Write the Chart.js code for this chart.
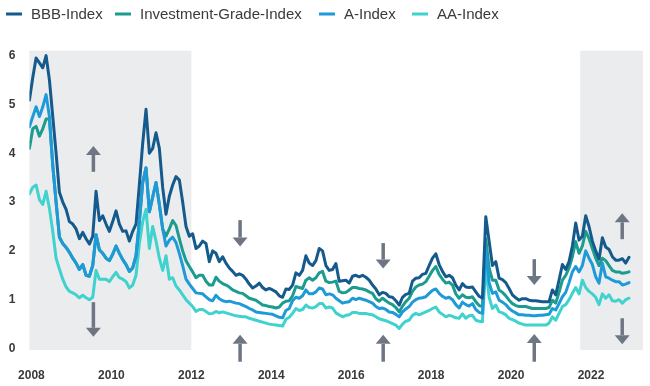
<!DOCTYPE html>
<html><head><meta charset="utf-8">
<script src="https://cdn.jsdelivr.net/npm/chart.js@4.4.0/dist/chart.umd.min.js"></script>
<style>html,body{margin:0;padding:0;background:#fff;}#wrap{width:650px;height:386px;position:relative;}</style>
</head><body><div id="wrap"><canvas id="c"></canvas></div>
<script>
// ---- data ----
const startYear = 2007.95; // first monthly observation (axis units)
const seriesNames = ['BBB-Index', 'Investment-Grade-Index', 'A-Index', 'AA-Index'];
const bbb = [5.09,5.55,5.95,5.85,5.75,6.0,5.5,4.75,4.0,3.2,
3.0,2.85,2.6,2.55,2.45,2.25,2.38,2.25,2.14,2.3,
3.22,2.62,2.72,2.55,2.4,2.6,2.82,2.55,2.4,2.41,
2.2,2.4,2.55,3.35,4.2,4.9,4.0,4.1,4.42,4.1,
3.3,2.75,3.12,3.35,3.52,3.45,3.0,2.5,2.3,2.35,
2.05,2.1,2.2,2.15,1.78,2.0,1.95,1.78,1.88,1.75,
1.65,1.58,1.5,1.53,1.5,1.42,1.32,1.24,1.28,1.34,
1.25,1.2,1.23,1.2,1.16,1.08,1.05,1.22,1.21,1.3,
1.55,1.5,1.6,1.9,1.75,1.7,1.8,2.05,2.0,1.7,
1.6,1.62,1.74,1.38,1.39,1.4,1.34,1.48,1.5,1.47,
1.5,1.46,1.4,1.3,1.22,1.1,1.15,1.13,1.06,1.05,
0.98,0.89,1.05,1.11,1.13,1.38,1.44,1.45,1.52,1.54,
1.7,1.85,1.94,1.72,1.58,1.47,1.5,1.45,1.3,1.2,
1.33,1.26,1.25,1.26,1.16,1.07,1.03,2.7,2.2,1.7,
1.78,1.44,1.41,1.35,1.23,1.1,1.04,0.99,1.02,1.02,
0.99,0.98,0.98,0.97,0.96,0.96,0.96,1.2,1.1,1.4,
1.72,1.62,1.78,2.1,2.57,2.22,2.3,2.72,2.5,2.2,
2.0,1.83,2.27,2.08,2.03,1.88,1.81,1.81,1.84,1.75,
1.87];
const ig = [4.1,4.5,4.55,4.35,4.5,4.7,4.7,3.75,3.0,2.28,
2.15,2.07,1.97,1.85,1.75,1.62,1.72,1.5,1.48,1.7,
2.33,2.02,1.95,1.85,1.8,1.93,2.1,1.95,1.82,1.72,
1.58,1.65,1.9,2.6,3.4,3.7,2.8,3.1,3.4,2.95,
2.45,2.3,2.45,2.62,2.52,2.25,2.0,1.8,1.68,1.57,
1.45,1.5,1.5,1.38,1.3,1.3,1.46,1.38,1.33,1.3,
1.26,1.2,1.17,1.14,1.13,1.08,1.03,1.01,0.99,0.94,
0.89,0.88,0.86,0.85,0.83,0.85,0.93,0.97,0.98,1.08,
1.27,1.25,1.23,1.4,1.45,1.4,1.45,1.55,1.58,1.38,
1.35,1.36,1.38,1.17,1.14,1.15,1.2,1.25,1.25,1.23,
1.22,1.2,1.16,1.13,1.02,0.97,1.03,0.98,0.93,0.9,
0.84,0.75,0.87,0.96,1.03,1.17,1.26,1.3,1.32,1.37,
1.48,1.6,1.68,1.52,1.42,1.34,1.36,1.3,1.12,1.03,
1.1,1.05,1.04,1.06,0.96,0.88,0.86,2.25,1.65,1.4,
1.4,1.2,1.15,1.08,0.99,0.92,0.88,0.86,0.86,0.86,
0.84,0.82,0.82,0.82,0.82,0.82,0.84,0.99,0.93,1.15,
1.4,1.5,1.65,1.88,2.19,1.95,2.1,2.4,2.25,2.05,
1.85,1.7,1.85,1.8,1.7,1.6,1.57,1.57,1.54,1.55,
1.57];
const aIdx = [4.54,4.75,4.95,4.75,4.95,5.2,4.75,3.75,3.0,2.28,
2.15,2.07,1.97,1.85,1.75,1.62,1.72,1.5,1.48,1.7,
2.33,2.02,1.95,1.85,1.8,1.93,2.1,1.95,1.82,1.72,
1.58,1.65,1.9,2.6,3.4,3.7,2.8,3.1,3.4,2.95,
2.45,2.1,2.22,2.28,2.17,1.95,1.7,1.42,1.32,1.23,
1.14,1.13,1.12,1.06,1.0,0.98,1.09,1.02,0.98,0.96,
0.97,0.95,0.93,0.92,0.89,0.86,0.82,0.79,0.75,0.74,
0.73,0.72,0.71,0.7,0.67,0.64,0.63,0.78,0.82,0.98,
1.05,1.03,1.08,1.2,1.12,1.12,1.16,1.24,1.22,1.1,
1.12,1.1,1.03,0.98,0.93,0.95,0.96,1.03,1.0,1.03,
1.01,0.99,0.96,0.93,0.86,0.82,0.83,0.8,0.75,0.74,
0.7,0.65,0.75,0.81,0.86,0.95,1.0,1.03,1.04,1.06,
1.13,1.19,1.22,1.13,1.07,1.03,1.05,1.0,0.9,0.83,
0.95,0.9,0.87,0.92,0.8,0.74,0.72,2.05,1.35,1.13,
1.16,0.99,0.95,0.9,0.82,0.77,0.73,0.69,0.69,0.68,
0.68,0.67,0.67,0.68,0.68,0.69,0.7,0.82,0.79,0.92,
1.06,1.15,1.35,1.57,1.68,1.57,1.7,2.0,1.85,1.72,
1.47,1.34,1.75,1.47,1.44,1.4,1.37,1.37,1.3,1.32,
1.35];
const aa = [3.17,3.3,3.35,3.05,2.95,3.22,2.87,2.4,1.85,1.63,
1.42,1.26,1.17,1.14,1.1,1.04,1.09,1.04,1.0,1.05,
1.6,1.42,1.42,1.42,1.37,1.47,1.56,1.45,1.42,1.37,
1.24,1.3,1.5,2.15,2.6,2.85,2.05,2.5,2.2,1.85,
1.6,1.9,1.42,1.45,1.28,1.2,1.1,1.0,0.93,0.86,
0.76,0.8,0.8,0.76,0.71,0.72,0.76,0.73,0.75,0.73,
0.71,0.69,0.67,0.66,0.65,0.65,0.62,0.6,0.58,0.56,
0.54,0.52,0.5,0.49,0.48,0.47,0.46,0.6,0.64,0.72,
0.82,0.78,0.8,0.89,0.84,0.83,0.86,0.92,0.92,0.83,
0.85,0.83,0.73,0.69,0.65,0.68,0.69,0.74,0.74,0.72,
0.72,0.72,0.7,0.69,0.65,0.61,0.59,0.57,0.54,0.51,
0.48,0.41,0.5,0.56,0.58,0.68,0.72,0.69,0.72,0.75,
0.78,0.82,0.85,0.75,0.7,0.65,0.68,0.66,0.63,0.62,
0.71,0.62,0.67,0.68,0.58,0.56,0.55,1.7,1.05,0.82,
0.89,0.75,0.73,0.69,0.62,0.59,0.56,0.52,0.5,0.48,
0.48,0.48,0.48,0.48,0.48,0.48,0.52,0.65,0.58,0.72,
0.86,0.9,1.0,1.13,1.25,1.12,1.4,1.25,1.17,1.12,
1.05,0.9,1.12,1.03,1.1,0.98,0.97,1.0,0.93,1.0,
1.03];
const xTicks = [2008, 2010, 2012, 2014, 2016, 2018, 2020, 2022];
const yTicks = [0, 1, 2, 3, 4, 5, 6];
const shadedPeriods = [[2007.95, 2012.0], [2021.73, 2023.3]];
// arrows: x position, tail value, head value
const arrows = [
  {x: 2009.55, from: 3.62, to: 4.15},
  {x: 2009.55, from: 0.95, to: 0.24},
  {x: 2013.22, from: 2.63, to: 2.09},
  {x: 2013.22, from: -0.27, to: 0.28},
  {x: 2016.80, from: 2.16, to: 1.64},
  {x: 2016.80, from: -0.27, to: 0.28},
  {x: 2020.58, from: 1.83, to: 1.30},
  {x: 2020.58, from: -0.27, to: 0.30},
  {x: 2022.78, from: 2.24, to: 2.77},
  {x: 2022.78, from: 0.62, to: 0.09}
];

// ---- styles ----
const colors = ['#155a8d', '#1b9c8e', '#1f9ad8', '#3fd2ce'];
const drawOrder = [0, 2, 1, 3];
const legendItemX = [6, 115, 319, 412];
const FONT = "'Liberation Sans', Arial, sans-serif";

const months = bbb.map((_, i) => startYear + i / 12);
const seriesValues = [bbb, ig, aIdx, aa];

const shadePlugin = {
  id: 'shade',
  beforeDatasetsDraw(chart) {
    const {ctx, chartArea, scales: {x}} = chart;
    ctx.save();
    ctx.fillStyle = '#ebecee';
    shadedPeriods.forEach(([a, b]) => {
      const x0 = x.getPixelForValue(a), x1 = x.getPixelForValue(b);
      ctx.fillRect(x0, chartArea.top, x1 - x0, chartArea.bottom - chartArea.top);
    });
    ctx.restore();
  }
};

const arrowPlugin = {
  id: 'arrows',
  afterDatasetsDraw(chart) {
    const {ctx, scales: {x, y}} = chart;
    ctx.save();
    ctx.fillStyle = '#6f7683';
    ctx.strokeStyle = '#6f7683';
    arrows.forEach(a => {
      const px = x.getPixelForValue(a.x);
      const y0 = y.getPixelForValue(a.from), y1 = y.getPixelForValue(a.to);
      const dir = y1 < y0 ? -1 : 1;
      const headLen = 9, headHalf = 7.5;
      ctx.lineWidth = 3.5;
      ctx.beginPath();
      ctx.moveTo(px, y0);
      ctx.lineTo(px, y1 - dir * headLen);
      ctx.stroke();
      ctx.beginPath();
      ctx.moveTo(px, y1);
      ctx.lineTo(px - headHalf, y1 - dir * headLen);
      ctx.lineTo(px + headHalf, y1 - dir * headLen);
      ctx.closePath();
      ctx.fill();
    });
    ctx.restore();
  }
};

const legendPlugin = {
  id: 'lineLegend',
  afterDraw(chart) {
    const {ctx} = chart;
    ctx.save();
    ctx.font = '15px ' + FONT;
    ctx.textBaseline = 'middle';
    ctx.textAlign = 'left';
    chart.data.datasets.forEach((ds, i) => {
      const x0 = legendItemX[i];
      const yc = 14;
      ctx.fillStyle = ds.borderColor;
      ctx.fillRect(x0, yc - 1.5, 16, 3);
      ctx.fillStyle = '#3a3a3a';
      ctx.fillText(ds.label, x0 + 25, yc + 0.5);
    });
    ctx.restore();
  }
};

new Chart(document.getElementById('c'), {
  type: 'line',
  data: {
    datasets: seriesNames.map((name, s) => ({
      label: name,
      data: months.map((m, i) => ({x: m, y: seriesValues[s][i]})),
      borderColor: colors[s],
      backgroundColor: colors[s],
      borderWidth: 3,
      pointRadius: 0,
      tension: 0,
      borderJoinStyle: 'round',
      borderCapStyle: 'round',
      order: drawOrder[s]
    }))
  },
  options: {
    responsive: true,
    maintainAspectRatio: false,
    animation: false,
    devicePixelRatio: 1,
    layout: {padding: {top: 50.7, right: 7, left: 0, bottom: 0}},
    plugins: {legend: {display: false}, tooltip: {enabled: false}},
    scales: {
      x: {
        type: 'linear',
        min: 2007.95,
        max: 2023.3,
        grid: {display: false, drawTicks: false},
        border: {display: false},
        afterBuildTicks: s => { s.ticks = xTicks.map(v => ({value: v})); },
        afterFit: s => { s.height = 36; },
        ticks: {
          padding: 18,
          maxRotation: 0,
          autoSkip: false,
          color: '#3a3a3a',
          font: {family: FONT, size: 12, weight: 'bold'},
          callback: v => String(v)
        }
      },
      y: {
        min: -0.03,
        max: 6.1,
        grid: {display: false, drawTicks: false},
        border: {display: false},
        afterBuildTicks: s => { s.ticks = yTicks.map(v => ({value: v})); },
        afterFit: s => { s.width = 28; },
        ticks: {
          padding: 14,
          color: '#3a3a3a',
          font: {family: FONT, size: 12, weight: 'bold'},
          callback: v => String(v)
        }
      }
    }
  },
  plugins: [shadePlugin, arrowPlugin, legendPlugin]
});
</script></body></html>
